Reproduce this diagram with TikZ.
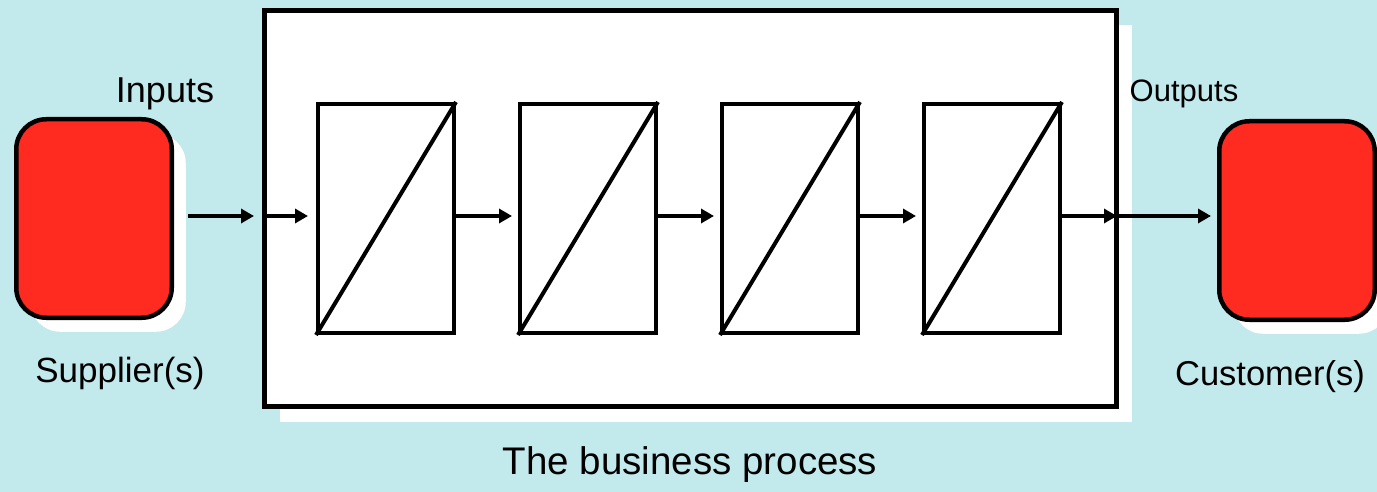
\documentclass[tikz,border=0pt]{standalone}
\usepackage{fontspec}
\setmainfont{Liberation Sans}
\usetikzlibrary{arrows.meta,shadows}

\tikzset{
    party/.style={draw, line width=4.5pt, fill=partycolor, rounded corners=30pt,
        minimum width=155.5pt, minimum height=198.5pt,
        drop shadow={shadow xshift=14pt, shadow yshift=-14pt, fill=white, opacity=1}},
    stage/.style={draw, line width=4pt, fill=white, minimum width=136pt, minimum height=229pt},
    flow/.style={line width=4pt, -{Triangle[length=13pt,width=14pt]}},
    lbl/.style={anchor=base, inner sep=0pt}
}

\begin{document}
\begin{tikzpicture}[x=1pt,y=-1pt]

    \definecolor{bgcolor}{RGB}{194,233,236}
    \definecolor{partycolor}{RGB}{255,42,32}

    \fill[bgcolor] (0,0) rectangle (1377,492);

    % the business process box
    \node[draw, line width=5pt, fill=white, minimum width=852pt, minimum height=396pt,
        drop shadow={shadow xshift=15pt, shadow yshift=-15pt, fill=white, opacity=1}]
        (proc) at (690.5,208.5) {};

    \node[party] (sup) at (94,218.5) {};
    \node[party] (cust) at (1297,220.5) {};

    % four stages
    \foreach \i in {1,...,4} {
        \node[stage] (s\i) at (386+202*\i-202,218.5) {};
        \draw[line width=4pt] (s\i.south west) -- (s\i.north east);
    }

    \draw[flow, shorten >=8pt] ([xshift=14pt]sup.east |- 0,216) -- (proc.west |- 0,216);
    \draw[flow, shorten >=8pt] (proc.west |- 0,216) -- (s1.west |- 0,216);
    \foreach \i/\j in {1/2,2/3,3/4}
        \draw[flow, shorten >=6pt] (s\i.east |- 0,216) -- (s\j.west |- 0,216);
    \draw[flow, shorten >=2pt] (s4.east |- 0,216) -- (proc.east |- 0,216);
    \draw[flow, shorten >=6pt] (proc.east |- 0,216) -- (cust.west |- 0,216);

    \node[lbl, font=\fontsize{36}{40}\selectfont] (in) at (165,103) {Inputs};
    \node[lbl, font=\fontsize{31}{36}\selectfont] (out) at (1184,102) {Outputs};
    \node[lbl, font=\fontsize{35}{40}\selectfont] (suplbl) at (120,382) {Supplier(s)};
    \node[lbl, font=\fontsize{34.5}{40}\selectfont] (custlbl) at (1270,385) {Customer(s)};
    \node[lbl, font=\fontsize{38.5}{44}\selectfont] (title) at (690,474) {The business process};

\end{tikzpicture}
\end{document}
